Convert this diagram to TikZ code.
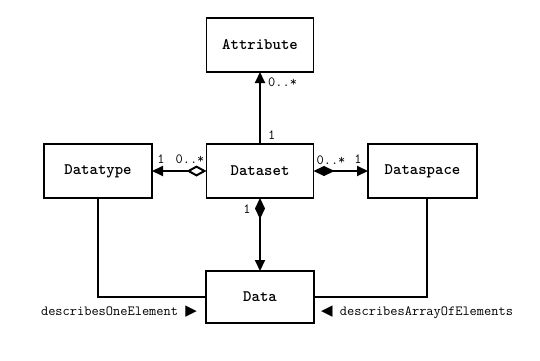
\documentclass[tikz,border=0pt]{standalone}
\usepackage{fontspec}
\newfontfamily\symfont{DejaVu Sans}
\usetikzlibrary{arrows.meta}
\begin{document}
\begin{tikzpicture}[x=1pt,y=-1pt,
  cls/.style={draw,line width=1.8pt,minimum width=107pt,minimum height=54pt,inner sep=0pt,outer sep=0pt,font=\ttfamily\bfseries\fontsize{16}{18}\selectfont},
  lbl/.style={inner sep=0pt,font=\ttfamily\fontsize{14}{16}\selectfont},
  conn/.style={line width=2pt},
  tri/.style={-{Triangle[length=11pt,width=10pt]}},
  fdia/.style={{Diamond[length=21pt,width=10pt]}-{Triangle[length=11pt,width=10pt]}},
  odia/.style={{Diamond[open,length=20pt,width=11pt,fill=white]}-{Triangle[length=11pt,width=10pt]}}]
\useasboundingbox (0,0) rectangle (540,360);
\node[cls] (attr) at (260,45) {Attribute};
\node[cls] (dset) at (260,171) {Dataset};
\node[cls,minimum width=108pt] (dtype) at (98,171) {Datatype};
\node[cls,minimum width=109pt] (dspace) at (422.5,171) {Dataspace};
\node[cls,minimum width=108pt,minimum height=52pt] (data) at (260,297) {Data};
% connectors
\draw[conn,tri] (dset.north) -- (attr.south);
\draw[conn,odia] (dset.west) -- (dtype.east);
\draw[conn,fdia] (dset.east) -- (dspace.west);
\draw[conn,fdia] (dset.south) -- (data.north);
\coordinate (dtb) at (dtype.south);
\coordinate (dsb) at ([xshift=4.5pt]dspace.south);
\draw[conn] (dtb) -- (dtb |- data.west) -- (data.west);
\draw[conn] (dsb) -- (dsb |- data.east) -- (data.east);
% multiplicities
\node[lbl,anchor=west] (m1) at (268,82) {0..*};
\node[lbl,anchor=west] (m2) at (268,135) {1};
\node[lbl] (m3) at (161,159) {1};
\node[lbl] (m4) at (190,159) {0..*};
\node[lbl] (m5) at (331,160) {0..*};
\node[lbl] (m6) at (358,159) {1};
\node[lbl] (m7) at (247,209) {1};
% association names
\node[lbl,anchor=east] (r1) at (197,312) {describesOneElement {\symfont\fontsize{15}{16}\selectfont ▶}};
\node[lbl,anchor=west] (r2) at (321,312) {{\symfont\fontsize{15}{16}\selectfont ◀} describesArrayOfElements};
\end{tikzpicture}
\end{document}
